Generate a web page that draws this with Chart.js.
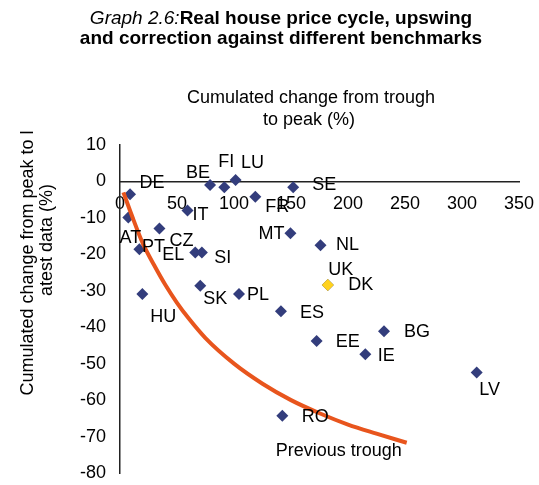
<!DOCTYPE html>
<html>
<head>
<meta charset="utf-8">
<script src="https://cdn.jsdelivr.net/npm/chart.js@4.4.1/dist/chart.umd.min.js"></script>
<style>
  html, body { margin: 0; padding: 0; background: #fff; }
  #wrap { position: relative; width: 539px; height: 485px; }
  #title { position: absolute; left: 0; top: 8px; width: 562px; text-align: center;
    font-family: "Liberation Sans", Arial, sans-serif; font-size: 19px; line-height: 20px; color: #000; }
  #title b { font-weight: bold; }
  canvas { position: absolute; left: 0; top: 0; }
</style>
</head>
<body>
<div id="wrap">
  <canvas id="myChart" width="539" height="485"></canvas>
  <div id="title"><i>Graph 2.6:</i><b>Real house price cycle, upswing<br>and correction against different benchmarks</b></div>
</div>
<script>
// Pays et valeurs
const countries = ['DE', 'BE', 'FI', 'LU', 'FR', 'SE', 'IT', 'AT', 'CZ', 'PT', 'EL', 'SI', 'SK', 'HU', 'PL',
                   'MT', 'NL', 'UK', 'DK', 'ES', 'EE', 'BG', 'IE', 'LV', 'RO'];
const upswing = [8.8, 79, 91.5, 101.4, 118.7, 151.9, 59.2, 7.3, 34.6, 17, 66, 71.8, 70.4, 19.6, 104.4,
                 149.5, 175.9, 182.3, 182.3, 141.2, 172.5, 231.6, 215.2, 312.9, 142.4];
const correction = [-3.5, -1, -1.6, 0.4, -4.2, -1.6, -8, -9.9, -12.9, -18.6, -19.5, -19.5, -28.6, -30.9, -30.9,
                    -14.2, -17.5, -28.4, -28.4, -35.6, -43.8, -41.1, -47.4, -52.4, -64.3];

// Courbe "Previous trough"
const troughX = [3, 10, 20, 30, 40, 50, 60, 75, 100, 125, 150, 175, 200, 225, 251.5];
const troughY = [-3, -9, -17, -23, -28.5, -33.3, -37.5, -43, -50, -55.5, -60, -63.6, -66.7, -69.2, -71.7];

// Graduations
const xTicks = [0, 50, 100, 150, 200, 250, 300, 350];
const yTicks = [10, 0, -10, -20, -30, -40, -50, -60, -70, -80];

const FONT = '"Liberation Sans", Arial, sans-serif';
const navy = '#333d7c';
const yellow = '#ffd21e';

// Position des étiquettes (décalage en pixels par rapport au point)
const labelOffset = {
  DE: [22, -11], BE: [-12, -12], FI: [2, -25], LU: [17, -17], FR: [22, 10], SE: [31, -2],
  IT: [13, 4], AT: [2, 21], CZ: [22, 13], PT: [14, -2], EL: [-22, 3], SI: [21, 6],
  SK: [15, 13], HU: [21, 23], PL: [19, 1], MT: [-19, 1], NL: [27, 0], UK: [13, -15],
  DK: [33, 0], ES: [31, 2], EE: [31, 1], BG: [33, 1], IE: [21, 2], LV: [13, 18], RO: [33, 1]
};

// L'axe X (au niveau de y = 0) ne réserve aucun espace
function noSpace(s) {
  s.height = 0;
  s.paddingLeft = s.paddingRight = s.paddingTop = s.paddingBottom = 0;
}
// L'axe Y occupe exactement la marge de gauche
function leftMargin(s) {
  s.width = 120;
  s.paddingLeft = s.paddingRight = s.paddingTop = s.paddingBottom = 0;
}

const textPlugin = {
  id: 'texts',
  afterDatasetsDraw(chart) {
    const ctx = chart.ctx;
    ctx.save();
    ctx.fillStyle = '#000';
    ctx.font = '18px ' + FONT;
    ctx.textAlign = 'center';
    ctx.textBaseline = 'middle';

    // étiquettes des pays
    const meta = chart.getDatasetMeta(1);
    meta.data.forEach((pt, i) => {
      const off = labelOffset[countries[i]] || [15, 0];
      ctx.fillText(countries[i], pt.x + off[0], pt.y + off[1]);
    });

    // étiquette de la courbe
    const curve = chart.getDatasetMeta(0).data;
    const last = curve[curve.length - 1];
    ctx.fillText('Previous trough', last.x - 68, last.y + 8);

    // titre de l'axe X
    ctx.fillText('Cumulated change from trough', 311, 98);
    ctx.fillText('to peak (%)', 309, 120);

    // titre de l'axe Y
    ctx.save();
    ctx.translate(28, 263);
    ctx.rotate(-Math.PI / 2);
    ctx.fillText('Cumulated change from peak to l', 0, 0);
    ctx.restore();
    ctx.save();
    ctx.translate(47, 240);
    ctx.rotate(-Math.PI / 2);
    ctx.fillText('atest data (%)', 0, 0);
    ctx.restore();

    ctx.restore();
  }
};

const ctx = document.getElementById('myChart').getContext('2d');
const myChart = new Chart(ctx, {
  type: 'scatter',
  data: {
    datasets: [{
      type: 'line',
      label: 'Previous trough',
      data: troughX.map((x, i) => ({ x: x, y: troughY[i] })),
      borderColor: '#e8551d',
      borderWidth: 4,
      pointRadius: 0,
      cubicInterpolationMode: 'monotone',
      fill: false
    }, {
      label: 'Countries',
      data: upswing.map((x, i) => ({ x: x, y: correction[i] })),
      pointStyle: 'rectRot',
      pointRadius: 6,
      pointHoverRadius: 6,
      borderWidth: 0,
      backgroundColor: countries.map(c => c === 'DK' ? yellow : navy)
    }]
  },
  options: {
    responsive: false,
    animation: false,
    events: [],
    layout: { padding: { left: 0, right: 20, top: 145, bottom: 12 } },
    plugins: { legend: { display: false }, tooltip: { enabled: false } },
    scales: {
      x: {
        type: 'linear',
        min: 0,
        max: 350,
        position: { y: 0 },
        afterFit: noSpace,
        afterBuildTicks: s => { s.ticks = xTicks.map(v => ({ value: v })); },
        grid: { display: false, drawTicks: false },
        border: { display: true, color: '#222', width: 1.5 },
        ticks: { autoSkip: false, maxRotation: 0, padding: 12, color: '#000', font: { family: FONT, size: 18 } }
      },
      y: {
        type: 'linear',
        min: -80,
        max: 10,
        position: 'left',
        afterFit: leftMargin,
        afterBuildTicks: s => { s.ticks = yTicks.map(v => ({ value: v })); },
        grid: { display: false, drawTicks: false },
        border: { display: true, color: '#222', width: 1.5 },
        ticks: { autoSkip: false, padding: 14, color: '#000', font: { family: FONT, size: 18 } }
      }
    }
  },
  plugins: [textPlugin]
});
</script>
</body>
</html>
